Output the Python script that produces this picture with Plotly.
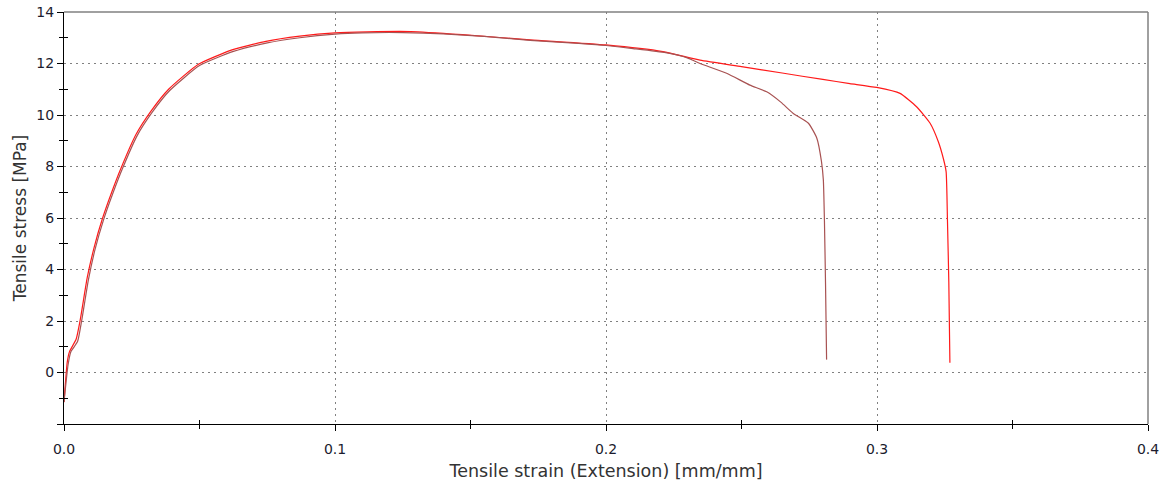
import plotly.graph_objects as go

# Tensile test curves: strain [mm/mm] vs stress [MPa]
strain_a = [0, 0.0015, 0.0025, 0.005, 0.0065, 0.009, 0.0115, 0.0145, 0.018, 0.0215,
            0.027, 0.0325, 0.039, 0.05, 0.0625, 0.075, 0.087, 0.1, 0.11, 0.125,
            0.14, 0.155, 0.172, 0.19, 0.2, 0.21, 0.222, 0.23, 0.2347, 0.2445,
            0.2531, 0.2593, 0.2645, 0.2691, 0.2747, 0.2778, 0.2795, 0.2802, 0.2806,
            0.281, 0.2814]
stress_a = [-1.15, 0.3, 0.8, 1.2, 2.0, 3.6, 4.8, 5.9, 6.95, 7.9,
            9.2, 10.1, 10.95, 11.92, 12.47, 12.8, 13.0, 13.14, 13.19, 13.2,
            13.15, 13.05, 12.9, 12.78, 12.7, 12.58, 12.42, 12.22, 12.0, 11.62,
            11.16, 10.9, 10.5, 10.06, 9.68, 9.1, 8.2, 7.48, 5.9,
            3.5, 0.5]

strain_b = [0, 0.0012, 0.002, 0.0045, 0.006, 0.0086, 0.0111, 0.0141, 0.0176, 0.0211,
            0.0266, 0.0321, 0.0386, 0.0496, 0.062, 0.0745, 0.087, 0.1, 0.112, 0.128,
            0.147, 0.172, 0.2, 0.221, 0.2347, 0.25, 0.265, 0.28, 0.29, 0.2999,
            0.3085, 0.3146, 0.3196, 0.3226, 0.3245, 0.3255, 0.326, 0.3265, 0.3269]
stress_b = [-1.15, 0.4, 0.8, 1.3, 2.05, 3.7, 4.85, 5.95, 7.0, 7.95,
            9.25, 10.15, 11.0, 11.97, 12.53, 12.86, 13.06, 13.19, 13.23, 13.24,
            13.12, 12.92, 12.72, 12.46, 12.13, 11.88, 11.63, 11.38, 11.22, 11.07,
            10.84, 10.32, 9.68, 8.97, 8.3, 7.8, 5.9, 3.5, 0.38]

x_major = [0.0, 0.1, 0.2, 0.3, 0.4]
x_major_text = ["0.0", "0.1", "0.2", "0.3", "0.4"]
x_minor = [0.05, 0.15, 0.25, 0.35]
y_major = [-2, 0, 2, 4, 6, 8, 10, 12, 14]
y_major_text = ["", "0", "2", "4", "6", "8", "10", "12", "14"]
y_minor = [-1, 1, 3, 5, 7, 9, 11, 13]

x_range = [0, 0.4]
y_range = [-2, 14]

FONT = "DejaVu Sans"
GRID = "#808080"

fig = go.Figure()
fig.add_trace(go.Scatter(x=strain_b, y=stress_b, mode="lines",
                         line=dict(color="#ff1a1a", width=1.2, shape="spline", smoothing=0.5),
                         showlegend=False))
fig.add_trace(go.Scatter(x=strain_a, y=stress_a, mode="lines",
                         line=dict(color="#a85252", width=1.2, shape="spline", smoothing=0.5),
                         showlegend=False))
# invisible trace so the overlay axes carrying the inner minor ticks get drawn
fig.add_trace(go.Scatter(x=[None], y=[None], xaxis="x2", yaxis="y2",
                         mode="lines", showlegend=False, hoverinfo="skip"))

fig.update_layout(
    width=1170, height=484,
    margin=dict(l=64, r=22, t=12, b=60, autoexpand=False),
    paper_bgcolor="white", plot_bgcolor="white",
    font=dict(family=FONT, color="#1c1c2e"),
    xaxis=dict(
        range=x_range, tickmode="array", tickvals=x_major, ticktext=x_major_text,
        ticks="outside", ticklen=6, tickcolor="#000", tickwidth=1,
        showline=True, linecolor="#000", linewidth=1,
        showgrid=True, gridcolor=GRID, griddash="2px,4px", gridwidth=1,
        zeroline=False, tickfont=dict(size=14, family=FONT),
        ticklabelstandoff=6, automargin=False,
        title=dict(text="Tensile strain (Extension) [mm/mm]",
                   font=dict(size=17.5, family=FONT, color="#333"), standoff=8),
        minor=dict(tickvals=x_minor, ticks="outside", ticklen=4,
                   tickcolor="#000", showgrid=False),
    ),
    yaxis=dict(
        range=y_range, tickmode="array", tickvals=y_major, ticktext=y_major_text,
        ticks="outside", ticklen=6, tickcolor="#000", tickwidth=1,
        showline=True, linecolor="#000", linewidth=1,
        showgrid=True, gridcolor=GRID, griddash="2px,4px", gridwidth=1,
        zeroline=False, tickfont=dict(size=14, family=FONT), automargin=False,
        title=dict(text="Tensile stress [MPa]",
                   font=dict(size=17, family=FONT, color="#333"), standoff=5),
        minor=dict(tickvals=y_minor, ticks="outside", ticklen=4,
                   tickcolor="#000", showgrid=False),
    ),
    xaxis2=dict(overlaying="x", anchor="y", side="bottom", range=x_range,
                tickmode="array", tickvals=x_minor, ticks="inside", ticklen=4,
                tickcolor="#000", showticklabels=False, showgrid=False,
                zeroline=False, showline=False, automargin=False),
    yaxis2=dict(overlaying="y", anchor="x", side="left", range=y_range,
                tickmode="array", tickvals=y_minor, ticks="inside", ticklen=4,
                tickcolor="#000", showticklabels=False, showgrid=False,
                zeroline=False, showline=False, automargin=False),
    shapes=[
        dict(type="line", xref="x domain", yref="y domain", x0=0, x1=1, y0=1, y1=1,
             line=dict(color="#808080", width=1.5)),
        dict(type="line", xref="x domain", yref="y domain", x0=1, x1=1, y0=0, y1=1,
             line=dict(color="#808080", width=1.5)),
    ],
)

fig.write_html("out.html")
